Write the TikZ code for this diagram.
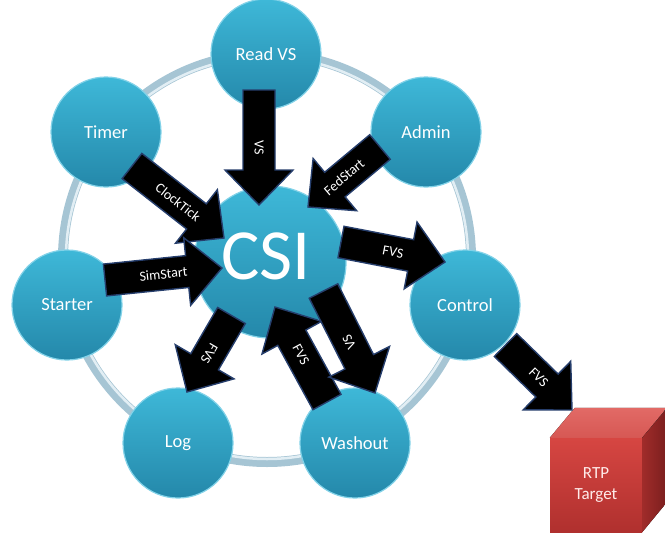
\documentclass[tikz,border=0pt]{standalone}
\usepackage{fontspec}
\setmainfont{Carlito}
\usetikzlibrary{calc}
\definecolor{tealA}{RGB}{62,184,216}
\definecolor{tealB}{RGB}{36,136,170}
\definecolor{rimc}{RGB}{130,210,232}
\definecolor{ringc}{RGB}{166,197,212}
\definecolor{ringl}{RGB}{226,238,244}
\definecolor{navy}{RGB}{38,62,108}
\definecolor{redA}{RGB}{214,70,66}
\definecolor{redB}{RGB}{176,48,46}
\definecolor{redTop}{RGB}{226,106,102}
\definecolor{redTop2}{RGB}{214,88,84}
\definecolor{redSideA}{RGB}{160,44,42}
\definecolor{redSideB}{RGB}{122,30,30}
\definecolor{rtptext}{RGB}{255,236,234}
\tikzset{
  bubble/.style={circle, minimum size=110pt, inner sep=0pt, draw=rimc, line width=1.2pt,
    top color=tealA, bottom color=tealB, text=white, font=\fontsize{18.5}{20}\selectfont},
  blockarrow/.style={fill=black, draw=navy, line width=1.4pt, line join=miter},
  arrowlabel/.style={text=white, font=\fontsize{14}{15}\selectfont, inner sep=0pt},
  ringstyle/.style={draw=ringc, line width=10pt},
}
\newcommand{\fatarrow}[4]{%
  \coordinate (#1hb) at ($(#2)!35pt!(#1)$);
  \draw[blockarrow] ($(#1)!16pt!90:(#2)$) -- ($(#1hb)!16pt!90:(#2)$) -- ($(#1hb)!34pt!90:(#2)$)
     -- (#2) -- ($(#1hb)!34pt!-90:(#2)$) -- ($(#1hb)!16pt!-90:(#2)$) -- ($(#1)!16pt!-90:(#2)$) -- cycle;
  \node[arrowlabel, rotate=#4] at ($(#1)!0.5!(#2)$) {#3};
}
\begin{document}
\begin{tikzpicture}[x=1pt,y=-1pt]
\useasboundingbox (0,0) rectangle (665,542);
% ring
\coordinate (ringctr) at (267,258);
\draw[ringstyle] (ringctr) circle[radius=204pt];
\draw[ringl, line width=2.5pt] (ringctr) circle[radius=201pt];
% satellite nodes
\node[bubble] (readvs)  at (266,54)  {Read VS};
\node[bubble] (admin)   at (426,132) {Admin};
\node[bubble] (control) at (465,305) {Control};
\node[bubble] (washout) at (355,443) {Washout};
\node[bubble] (log)     at (178,443) {Log};
\node[bubble] (starter) at (67,305)  {Starter};
\node[bubble] (timer)   at (106,132) {Timer};
% centre
\node[bubble, minimum size=152pt] (csi) at (270,262) {};
\node[text=white, font=\fontsize{72}{72}\selectfont, inner sep=0pt] (csilabel) at (266,256) {CSI};
% RTP target cube
\node[minimum width=92pt, minimum height=94pt, inner sep=0pt, top color=redA, bottom color=redB,
      text=rtptext, align=center, font=\fontsize{17}{21}\selectfont] (rtp) at (596,485) {RTP\\Target};
\fill[top color=redTop, bottom color=redTop2] (rtp.north west) -- ++(25,-30) -- ++(92,0) -- (rtp.north east) -- cycle;
\fill[left color=redSideA, right color=redSideB] (rtp.north east) -- ++(25,-30) -- ++(0,94) -- (rtp.south east) -- cycle;
% arrow end points
\coordinate (rvS) at ($(readvs)+(-7,36)$);   \coordinate (rvT) at ($(csi)+(-11,-57)$);
\coordinate (ckS) at ($(timer)+(26,34)$);    \coordinate (ckT) at ($(csi)+(-46,-24)$);
\coordinate (ssS) at ($(starter)+(38,-25)$); \coordinate (ssT) at ($(csi)+(-48,6)$);
\coordinate (fsS) at ($(admin)+(-46,15)$);   \coordinate (fsT) at ($(csi)+(38,-55)$);
\coordinate (fcS) at ($(csi)+(71,-20)$);     \coordinate (fcT) at ($(control)+(-20,-43)$);
\coordinate (fwS) at ($(washout)+(-28,-41)$);\coordinate (fwT) at ($(csi)+(5,45)$);
\coordinate (vwS) at ($(csi)+(53.5,29)$);    \coordinate (vwT) at ($(washout)+(20,-50)$);
\coordinate (flS) at ($(csi)+(-38.5,53.5)$); \coordinate (flT) at ($(log)+(9,-51)$);
\coordinate (frS) at ($(control)+(40.5,40)$);\coordinate (frT) at ($(rtp)+(-24,-75)$);
% arrows
\fatarrow{rvS}{rvT}{VS}{-90}
\fatarrow{ckS}{ckT}{ClockTick}{-38}
\fatarrow{ssS}{ssT}{SimStart}{5.9}
\fatarrow{fsS}{fsT}{FedStart}{40}
\fatarrow{fcS}{fcT}{FVS}{-10.9}
\fatarrow{fwS}{fwT}{FVS}{-61.3}
\fatarrow{vwS}{vwT}{VS}{116.8}
\fatarrow{flS}{flT}{FVS}{-120.2}
\fatarrow{frS}{frT}{FVS}{-44.6}
\end{tikzpicture}
\end{document}
